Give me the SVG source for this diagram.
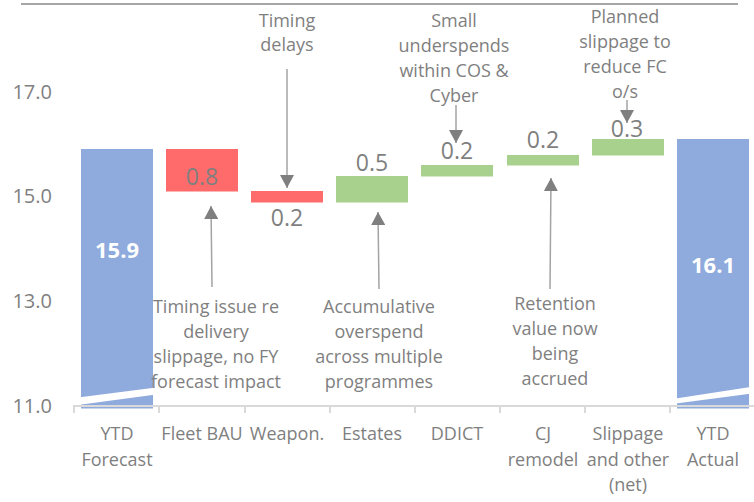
<svg xmlns="http://www.w3.org/2000/svg" width="754" height="502" viewBox="0 0 754 502">
  <style>
    text { font-family: "Open Sans", "Liberation Sans", sans-serif; fill: #7F7F7F; }
    .axis { font-size: 20px; text-anchor: end; }
    .cat { font-size: 18px; text-anchor: middle; }
    .note { font-size: 18px; text-anchor: middle; }
    .val { font-size: 23px; text-anchor: middle; }
    .total { font-size: 22px; font-weight: bold; text-anchor: middle; fill: #FFFFFF; }
    .blue { fill: #8FAADC; }
    .red { fill: #FF6B6B; }
    .green { fill: #A9D18E; }
    .brk { fill: #FFFFFF; }
    .arrow { stroke: #A3A3A3; stroke-width: 1.5; fill: none; marker-end: url(#head); }
  </style>
  <defs>
    <marker id="head" markerUnits="userSpaceOnUse" markerWidth="14" markerHeight="14" refX="13" refY="7" orient="auto">
      <path d="M0,0 L13,7 L0,14 Z" fill="#7F7F7F"/>
    </marker>
  </defs>

  <rect width="754" height="502" fill="#FFFFFF"/>

  <!-- top rule -->
  <line x1="21" y1="4" x2="738" y2="4" stroke="#A6A6A6" stroke-width="2"/>

  <!-- value axis labels -->
  <g id="value-axis">
    <text class="axis" x="52" y="99">17.0</text>
    <text class="axis" x="52" y="203">15.0</text>
    <text class="axis" x="52" y="308">13.0</text>
    <text class="axis" x="52" y="413">11.0</text>
  </g>

  <!-- bars -->
  <g id="ytd-forecast">
    <rect class="blue" x="81" y="149" width="72" height="259.5"/>
    <polygon class="brk" points="78,397.4 156,387.6 156,394.6 78,404.9"/>
    <text class="total" x="117" y="258">15.9</text>
  </g>
  <g id="fleet-bau">
    <rect class="red" x="166" y="149" width="72" height="42.5"/>
    <text class="val" x="202" y="185">0.8</text>
  </g>
  <g id="weapon">
    <rect class="red" x="251" y="191" width="72" height="11.5"/>
    <text class="val" x="287" y="226">0.2</text>
  </g>
  <g id="estates">
    <rect class="green" x="336" y="176" width="72" height="26.5"/>
    <text class="val" x="372" y="171">0.5</text>
  </g>
  <g id="ddict">
    <rect class="green" x="421" y="165" width="72" height="11.5"/>
    <text class="val" x="457" y="159">0.2</text>
  </g>
  <g id="cj-remodel">
    <rect class="green" x="507" y="155" width="72" height="10.5"/>
    <text class="val" x="543" y="148">0.2</text>
  </g>
  <g id="slippage">
    <rect class="green" x="592" y="139" width="72" height="16.5"/>
    <text class="val" x="627" y="137">0.3</text>
  </g>
  <g id="ytd-actual">
    <rect class="blue" x="677" y="139" width="72" height="269.5"/>
    <polygon class="brk" points="674,398.7 752,386.8 752,393.5 674,403.8"/>
    <text class="total" x="713" y="273">16.1</text>
  </g>

  <!-- category axis -->
  <g id="category-axis" stroke="#D9D9D9" stroke-width="2">
    <line x1="73" y1="406" x2="754" y2="406"/>
    <line x1="74" y1="406" x2="74" y2="413"/>
    <line x1="159" y1="406" x2="159" y2="413"/>
    <line x1="245" y1="406" x2="245" y2="413"/>
    <line x1="330" y1="406" x2="330" y2="413"/>
    <line x1="415" y1="406" x2="415" y2="413"/>
    <line x1="500" y1="406" x2="500" y2="413"/>
    <line x1="585" y1="406" x2="585" y2="413"/>
    <line x1="670" y1="406" x2="670" y2="413"/>
  </g>
  <g id="category-labels">
    <text class="cat" x="117" y="440">YTD</text>
    <text class="cat" x="117" y="466">Forecast</text>
    <text class="cat" x="202" y="440">Fleet BAU</text>
    <text class="cat" x="287" y="440">Weapon.</text>
    <text class="cat" x="372" y="440">Estates</text>
    <text class="cat" x="457" y="440">DDICT</text>
    <text class="cat" x="543" y="440">CJ</text>
    <text class="cat" x="543" y="466">remodel</text>
    <text class="cat" x="628" y="440">Slippage</text>
    <text class="cat" x="628" y="466">and other</text>
    <text class="cat" x="628" y="491">(net)</text>
    <text class="cat" x="713" y="440">YTD</text>
    <text class="cat" x="713" y="466">Actual</text>
  </g>

  <!-- annotations -->
  <g id="note-weapon">
    <text class="note" x="287" y="27">Timing</text>
    <text class="note" x="287" y="51">delays</text>
  </g>
  <g id="note-ddict">
    <text class="note" x="454" y="27">Small</text>
    <text class="note" x="454" y="52">underspends</text>
    <text class="note" x="454" y="77">within COS &amp;</text>
    <text class="note" x="454" y="102">Cyber</text>
  </g>
  <g id="note-slippage">
    <text class="note" x="625" y="23">Planned</text>
    <text class="note" x="625" y="48">slippage to</text>
    <text class="note" x="625" y="73">reduce FC</text>
    <text class="note" x="625" y="98">o/s</text>
  </g>
  <g id="note-fleet">
    <text class="note" x="216" y="313">Timing issue re</text>
    <text class="note" x="216" y="338">delivery</text>
    <text class="note" x="216" y="363">slippage, no FY</text>
    <text class="note" x="216" y="388">forecast impact</text>
  </g>
  <g id="note-estates">
    <text class="note" x="379" y="313">Accumulative</text>
    <text class="note" x="379" y="338">overspend</text>
    <text class="note" x="379" y="363">across multiple</text>
    <text class="note" x="379" y="388">programmes</text>
  </g>
  <g id="note-cj">
    <text class="note" x="555" y="310">Retention</text>
    <text class="note" x="555" y="335">value now</text>
    <text class="note" x="555" y="360">being</text>
    <text class="note" x="555" y="385">accrued</text>
  </g>

  <!-- connectors -->
  <g id="connectors">
    <line class="arrow" x1="287" y1="69" x2="287" y2="188"/>
    <line class="arrow" x1="212" y1="287" x2="211" y2="206"/>
    <line class="arrow" x1="379" y1="289" x2="378" y2="212"/>
    <line class="arrow" x1="456" y1="105" x2="456" y2="143"/>
    <line class="arrow" x1="550" y1="289" x2="551" y2="178"/>
    <line class="arrow" x1="627" y1="100" x2="627" y2="123"/>
  </g>
</svg>
